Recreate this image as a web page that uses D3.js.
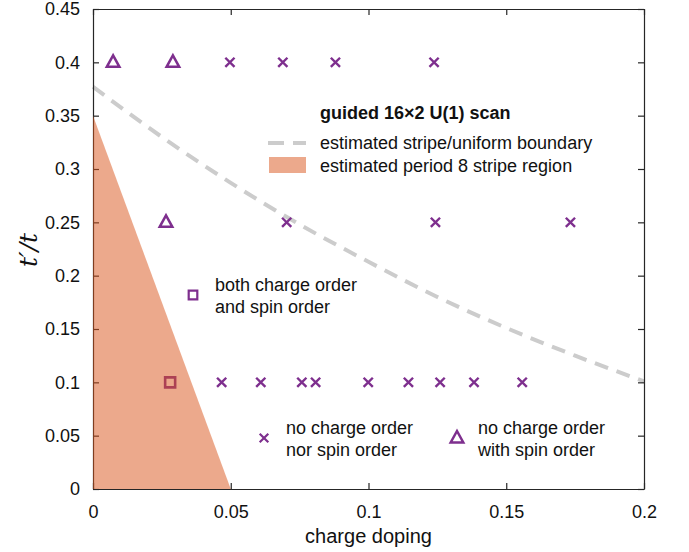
<!DOCTYPE html>
<html>
<head>
<meta charset="utf-8">
<script src="https://cdn.jsdelivr.net/npm/d3@7"></script>
<style>
  body { margin: 0; background: #fff; }
  svg text { font-family: "Liberation Sans", Arial, Helvetica, sans-serif; fill: #111; }
</style>
</head>
<body>
<svg id="chart" width="689" height="552"></svg>
<script>
// ---- data ----
const xTicks = [0, 0.05, 0.1, 0.15, 0.2];
const xTickLabels = ["0", "0.05", "0.1", "0.15", "0.2"];
const yTicks = [0, 0.05, 0.1, 0.15, 0.2, 0.25, 0.3, 0.35, 0.4, 0.45];
const yTickLabels = ["0", "0.05", "0.1", "0.15", "0.2", "0.25", "0.3", "0.35", "0.4", "0.45"];

// no charge order nor spin order (crosses)
const crossDoping = [0.0497, 0.0689, 0.088, 0.1238,
  0.0703, 0.1243, 0.1733,
  0.0467, 0.0609, 0.0758, 0.0808, 0.0999, 0.1145, 0.126, 0.1383, 0.1558];
const crossTp = [0.4, 0.4, 0.4, 0.4,
  0.25, 0.25, 0.25,
  0.1, 0.1, 0.1, 0.1, 0.1, 0.1, 0.1, 0.1, 0.1];

// no charge order with spin order (triangles)
const triDoping = [0.0073, 0.029, 0.0265];
const triTp = [0.4, 0.4, 0.25];

// both charge order and spin order (squares)
const sqDoping = [0.028];
const sqTp = [0.1];

// estimated stripe/uniform boundary
const boundaryDoping = [0, 0.025, 0.05, 0.075, 0.1, 0.125, 0.15, 0.175, 0.2];
const boundaryTp = [0.377, 0.330, 0.287, 0.248, 0.213, 0.180, 0.151, 0.125, 0.101];

// estimated period 8 stripe region
const regionDoping = [0, 0, 0.05];
const regionTp = [0, 0.35, 0];

const purple = "#7e2f8e";
const orange = "#d95319";

const margin = { top: 9, right: 45, bottom: 63, left: 93 };
const width = 689 - margin.left - margin.right;
const height = 552 - margin.top - margin.bottom;

const svg = d3.select("#chart");
const g = svg.append("g")
  .attr("transform", "translate(" + margin.left + "," + margin.top + ")");

const x = d3.scaleLinear().domain([0, 0.2]).range([0, width]);
const y = d3.scaleLinear().domain([0, 0.45]).range([height, 0]);

// marker shapes
function crossPath(r) {
  return "M" + -r + "," + -r + "L" + r + "," + r + "M" + -r + "," + r + "L" + r + "," + -r;
}
function triPath() {
  return "M0,-7L6.3,4.5L-6.3,4.5Z";
}
function squarePath(r) {
  return "M" + -r + "," + -r + "H" + r + "V" + r + "H" + -r + "Z";
}

// boundary line
const line = d3.line()
  .x((d) => x(d[0]))
  .y((d) => y(d[1]))
  .curve(d3.curveMonotoneX);

g.append("path")
  .datum(boundaryDoping.map((d, i) => [d, boundaryTp[i]]))
  .attr("d", line)
  .attr("fill", "none")
  .attr("stroke", "#cccccc")
  .attr("stroke-width", 4)
  .attr("stroke-dasharray", "14,9");

// markers
g.selectAll(".cross")
  .data(crossDoping.map((d, i) => [d, crossTp[i]]))
  .join("path")
  .attr("class", "cross")
  .attr("transform", (d) => "translate(" + x(d[0]) + "," + y(d[1]) + ")")
  .attr("d", crossPath(4.6))
  .attr("fill", "none")
  .attr("stroke", purple)
  .attr("stroke-width", 2.4);

g.selectAll(".tri")
  .data(triDoping.map((d, i) => [d, triTp[i]]))
  .join("path")
  .attr("class", "tri")
  .attr("transform", (d) => "translate(" + x(d[0]) + "," + y(d[1]) + ")")
  .attr("d", triPath())
  .attr("fill", "none")
  .attr("stroke", purple)
  .attr("stroke-width", 2.5)
  .attr("stroke-linejoin", "miter");

g.selectAll(".sq")
  .data(sqDoping.map((d, i) => [d, sqTp[i]]))
  .join("path")
  .attr("class", "sq")
  .attr("transform", (d) => "translate(" + x(d[0]) + "," + y(d[1]) + ")")
  .attr("d", squarePath(5))
  .attr("fill", "none")
  .attr("stroke", purple)
  .attr("stroke-width", 2.6);

// axes box with inward ticks
const axisColor = "#262626";
function styleAxis(sel) {
  sel.select(".domain").attr("stroke", axisColor).attr("stroke-width", 1.2);
  sel.selectAll(".tick line").attr("stroke", axisColor).attr("stroke-width", 1.2);
  sel.selectAll(".tick text")
    .style("font-size", "18px")
    .attr("fill", "#111");
}

g.append("g")
  .attr("transform", "translate(0," + height + ")")
  .call(d3.axisBottom(x).tickValues(xTicks).tickFormat((d, i) => xTickLabels[i])
    .tickSizeInner(-6).tickSizeOuter(0).tickPadding(16))
  .call(styleAxis);

g.append("g")
  .call(d3.axisTop(x).tickValues(xTicks).tickFormat("")
    .tickSizeInner(-6).tickSizeOuter(0))
  .call(styleAxis);

g.append("g")
  .call(d3.axisLeft(y).tickValues(yTicks).tickFormat((d, i) => yTickLabels[i])
    .tickSizeInner(-6).tickSizeOuter(0).tickPadding(13))
  .call(styleAxis);

g.append("g")
  .attr("transform", "translate(" + width + ",0)")
  .call(d3.axisRight(y).tickValues(yTicks).tickFormat("")
    .tickSizeInner(-6).tickSizeOuter(0))
  .call(styleAxis);

// shaded stripe region, translucent and drawn over the axis and markers
g.append("path")
  .datum(regionDoping.map((d, i) => [d, regionTp[i]]))
  .attr("d", d3.line().x((d) => x(d[0])).y((d) => y(d[1])))
  .attr("fill", orange)
  .attr("fill-opacity", 0.5)
  .attr("stroke", "none");

// axis labels
svg.append("text")
  .attr("x", margin.left + width / 2)
  .attr("y", 543)
  .attr("text-anchor", "middle")
  .style("font-size", "20px")
  .text("charge doping");

svg.append("text")
  .attr("transform", "translate(37,250) rotate(-90)")
  .attr("text-anchor", "middle")
  .style("font-family", "'DejaVu Serif', 'Liberation Serif', serif")
  .style("font-style", "italic")
  .style("font-size", "25px")
  .text("t\u2032/t");

// legend
svg.append("text")
  .attr("x", 320).attr("y", 119)
  .style("font-size", "18px")
  .style("font-weight", "bold")
  .text("guided 16\u00d72 U(1) scan");

svg.append("line")
  .attr("x1", 268).attr("x2", 306)
  .attr("y1", 143).attr("y2", 143)
  .attr("stroke", "#cccccc")
  .attr("stroke-width", 4)
  .attr("stroke-dasharray", "16,9");

svg.append("text")
  .attr("x", 320).attr("y", 149)
  .style("font-size", "18px")
  .text("estimated stripe/uniform boundary");

svg.append("rect")
  .attr("x", 269).attr("y", 157)
  .attr("width", 37).attr("height", 16)
  .attr("fill", orange)
  .attr("fill-opacity", 0.5);

svg.append("text")
  .attr("x", 320).attr("y", 172)
  .style("font-size", "18px")
  .text("estimated period 8 stripe region");

// annotations for marker types
function note(mx, my, shape, tx, lines) {
  const p = svg.append("path")
    .attr("transform", "translate(" + mx + "," + my + ")")
    .attr("fill", "none")
    .attr("stroke", purple);
  if (shape === "sq") p.attr("d", squarePath(4.3)).attr("stroke-width", 2.2);
  if (shape === "x") p.attr("d", crossPath(4.3)).attr("stroke-width", 2.2);
  if (shape === "tri") p.attr("d", triPath()).attr("stroke-width", 2.5);
  const t = svg.append("text").attr("x", tx).attr("y", my - 4).style("font-size", "18px");
  lines.forEach((l, i) => {
    t.append("tspan").attr("x", tx).attr("dy", i === 0 ? 0 : 22).text(l);
  });
}

note(193, 295, "sq", 215, ["both charge order", "and spin order"]);
note(264, 438, "x", 286, ["no charge order", "nor spin order"]);
note(457, 438, "tri", 478, ["no charge order", "with spin order"]);
</script>
</body>
</html>
